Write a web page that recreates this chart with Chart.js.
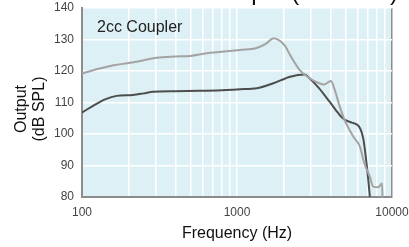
<!DOCTYPE html>
<html>
<head>
<meta charset="utf-8">
<script src="https://cdn.jsdelivr.net/npm/chart.js"></script>
<style>
  body { margin: 0; background: #fff; }
  #chart { display: block; }
</style>
</head>
<body>
<canvas id="chart" width="409" height="247"></canvas>
<script>
// upper (light) curve
const lightFreq = [100, 130, 160, 204, 250, 303, 400, 500, 636, 800, 1045, 1340, 1550, 1720, 1890, 2050, 2200, 2540, 2940, 3390, 3650, 4030, 4240, 4600, 4950, 5640, 6210, 6630, 7200, 7560, 8150, 8620, 8700];
const lightOut = [119.2, 120.8, 121.8, 122.6, 123.4, 124.2, 124.6, 124.8, 125.6, 126.1, 126.7, 127.3, 128.8, 130.4, 129.6, 127.8, 125.1, 120.3, 117.7, 116.1, 115.7, 116.8, 114.5, 108.7, 104.4, 99.1, 96.0, 90.7, 86.4, 83.3, 83.1, 84.3, 78];

// lower (dark) curve
const darkFreq = [100, 120, 141, 167, 213, 250, 287, 400, 577, 800, 1045, 1340, 1716, 2203, 2740, 2937, 3390, 3920, 4340, 4810, 5500, 6100, 6520, 6850, 7200, 7300];
const darkOut = [106.8, 109.2, 111.0, 112.1, 112.4, 112.9, 113.4, 113.6, 113.7, 113.9, 114.2, 114.5, 116.1, 118.2, 118.9, 117.7, 114.5, 110.5, 107.6, 105.0, 103.6, 102.5, 98.6, 90.7, 80, 76];

const freqTicks = [100, 200, 300, 400, 500, 600, 700, 800, 900, 1000, 2000, 3000, 4000, 5000, 6000, 7000, 8000, 9000, 10000];
const freqLabels = [100, 1000, 10000];
const outTicks = [80, 90, 100, 110, 120, 130, 140];

const FONT = "'Liberation Sans', Arial, Helvetica, sans-serif";

/* background + texts */
const extras = {
  id: "extras",
  beforeDraw(chart) {
    const { ctx, chartArea: a } = chart;
    ctx.save();
    ctx.fillStyle = "#dcf0f5";
    ctx.fillRect(a.left, a.top, a.right - a.left, a.bottom - a.top);
    ctx.restore();
  },
  afterDraw(chart) {
    const { ctx, chartArea: a } = chart;
    ctx.save();
    ctx.fillStyle = "#222";
    ctx.font = "16px " + FONT;
    ctx.textBaseline = "middle";
    ctx.fillText("2cc Coupler", a.left + 15, 28);

    // y axis title
    ctx.save();
    ctx.translate(0, 109);
    ctx.rotate(-Math.PI / 2);
    ctx.textAlign = "center";
    ctx.fillStyle = "#111";
    ctx.fillText("Output", 0, 22);
    ctx.fillText("(dB SPL)", 0, 40);
    ctx.restore();

    // title, mostly outside the picture
    ctx.font = "24px " + FONT;
    ctx.textAlign = "right";
    ctx.textBaseline = "alphabetic";
    ctx.fillStyle = "#111";
    ctx.fillText("Maximum Output (OSPL90)", 398, 0);
    ctx.restore();
  },
};

new Chart(document.getElementById("chart"), {
  type: "line",
  data: {
    datasets: [
      {
        label: "light",
        data: lightFreq.map((f, i) => ({ x: f, y: lightOut[i] })),
        borderColor: "#a3a3a3",
        borderWidth: 2,
        pointRadius: 0,
        cubicInterpolationMode: "monotone",
      },
      {
        label: "dark",
        data: darkFreq.map((f, i) => ({ x: f, y: darkOut[i] })),
        borderColor: "#4d4d4d",
        borderWidth: 2,
        pointRadius: 0,
        cubicInterpolationMode: "monotone",
      },
    ],
  },
  options: {
    responsive: false,
    devicePixelRatio: 1,
    animation: false,
    layout: { padding: { top: 8, right: 17, left: 0, bottom: 0 } },
    plugins: { legend: { display: false }, tooltip: { enabled: false } },
    scales: {
      x: {
        type: "logarithmic",
        min: 100,
        max: 10000,
        afterBuildTicks: (s) => {
          s.ticks = freqTicks.map((v) => ({ value: v }));
        },
        afterFit: (s) => {
          s.height = 50;
          s.paddingLeft = 0;
          s.paddingRight = 0;
        },
        ticks: {
          autoSkip: false,
          maxRotation: 0,
          padding: 8,
          color: "#444",
          font: { family: FONT, size: 12 },
          callback: (v) => (freqLabels.includes(v) ? String(v) : ""),
        },
        grid: {
          drawTicks: false,
          lineWidth: 1.5,
          color: (c) => (c.tick && c.tick.value === 10000 ? "#8c8c8c" : "#ffffff"),
        },
        border: { color: "#8c8c8c", width: 2 },
        title: {
          display: true,
          text: "Frequency (Hz)",
          color: "#111",
          font: { family: FONT, size: 16 },
          padding: { top: 6 },
        },
      },
      y: {
        min: 80,
        max: 140,
        afterBuildTicks: (s) => {
          s.ticks = outTicks.map((v) => ({ value: v }));
        },
        afterFit: (s) => {
          s.width = 82;
          s.paddingTop = 0;
          s.paddingBottom = 0;
        },
        ticks: {
          padding: 8,
          color: "#444",
          font: { family: FONT, size: 12 },
        },
        grid: { drawTicks: false, lineWidth: 1.5, color: "#ffffff" },
        border: { color: "#8c8c8c", width: 2 },
      },
    },
  },
  plugins: [extras],
});
</script>
</body>
</html>
